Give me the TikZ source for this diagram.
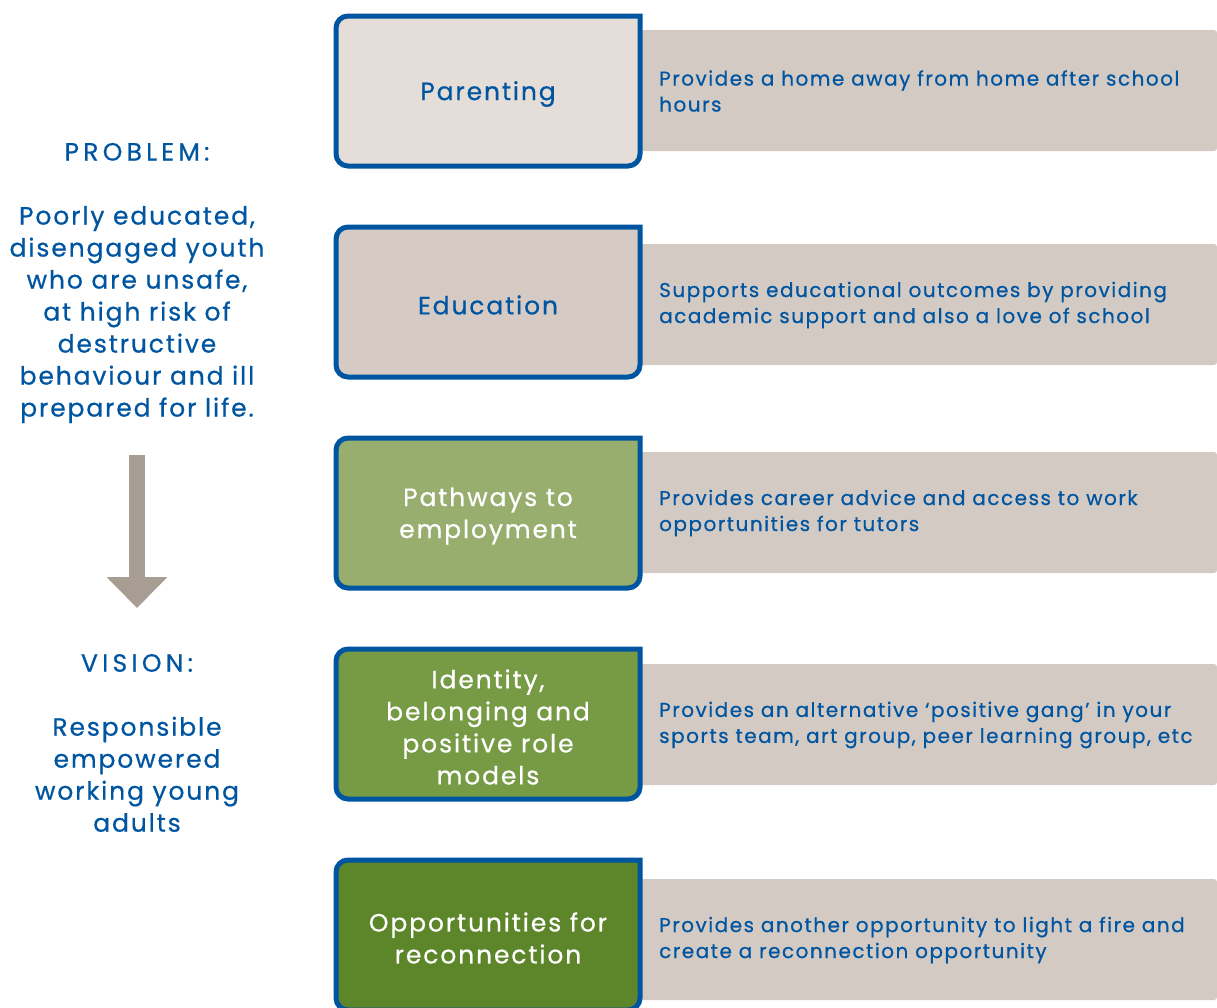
\documentclass[tikz,border=0pt]{standalone}
\usepackage{fontspec}
\setmainfont{Poppins}[LetterSpace=7.5, FakeBold=0.6]
\usetikzlibrary{arrows.meta}

\definecolor{tblue}{HTML}{0055A1}
\definecolor{panelgrey}{HTML}{D4CAC4}
\definecolor{boxA}{HTML}{E5DDD8}
\definecolor{boxB}{HTML}{D5CBC4}
\definecolor{boxC}{HTML}{97AE6F}
\definecolor{boxD}{HTML}{779A45}
\definecolor{boxE}{HTML}{5C8629}
\definecolor{arrowgrey}{HTML}{A89D93}

% wider tracking for the two headings
\newcommand{\sidehead}[1]{{\addfontfeatures{LetterSpace=17}#1}}

\tikzset{
  rowbox/.style={draw=tblue, line width=5pt},
  panel/.style={fill=panelgrey, rounded corners=3pt},
  notetext/.style={anchor=west, text=tblue, align=left, inner sep=0pt,
    font=\fontsize{20}{26}\selectfont},
  boxtext/.style={align=center, inner sep=0pt, font=\fontsize{25}{32}\selectfont},
  sidetext/.style={text=tblue, align=center, inner sep=0pt,
    font=\fontsize{25}{32}\selectfont},
  downarrow/.style={draw=arrowgrey, line width=16pt,
    -{Triangle[width=59pt,length=31pt]}},
}

\begin{document}
\begin{tikzpicture}[x=1pt,y=-1pt]
  \useasboundingbox (0,0) rectangle (1217,1007);

  % one row per programme area: box on the left, note behind it
  \foreach \k/\btop/\ntop/\bcol/\tcol/\blbl/\ntext in {
    1/16/30/boxA/tblue/{Parenting}/{Provides a home away from home after school\\hours},
    2/227/244/boxB/tblue/{Education}/{Supports educational outcomes by providing\\academic support and also a love of school},
    3/438/452/boxC/white/{Pathways to\\employment}/{Provides career advice and access to work\\opportunities for tutors},
    4/649/664/boxD/white/{Identity,\\belonging and\\positive role\\models}/{Provides an alternative ‘positive gang’ in your\\sports team, art group, peer learning group, etc},
    5/860/879/boxE/white/{Opportunities for\\reconnection}/{Provides another opportunity to light a fire and\\create a reconnection opportunity}%
  }{
    \fill[panel] (600,\ntop) rectangle (1217,\ntop+121);
    \node[notetext] (note\k) at (659,\ntop+61) {\ntext};
    \path[rowbox, fill=\bcol] (640,\btop) [rounded corners=12pt] -- (640,\btop+150)
      -- (336,\btop+150) -- (336,\btop) [sharp corners] -- cycle;
    \node[boxtext, text=\tcol] (box\k) at (488,\btop+78) {\blbl};
  }

  % problem and vision on the left
  \node[sidetext] (problem) at (137,283) {\sidehead{PROBLEM:}\\[32pt]Poorly educated,\\disengaged youth\\who are unsafe,\\at high risk of\\destructive\\behaviour and ill\\prepared for life.};
  \node[sidetext] (vision) at (137,743) {\sidehead{VISION:}\\[32pt]Responsible\\empowered\\working young\\adults};

  \coordinate (arrowtop) at (137,455);
  \coordinate (arrowtip) at (137,608);
  \draw[downarrow] (arrowtop) -- (arrowtip);
\end{tikzpicture}
\end{document}
